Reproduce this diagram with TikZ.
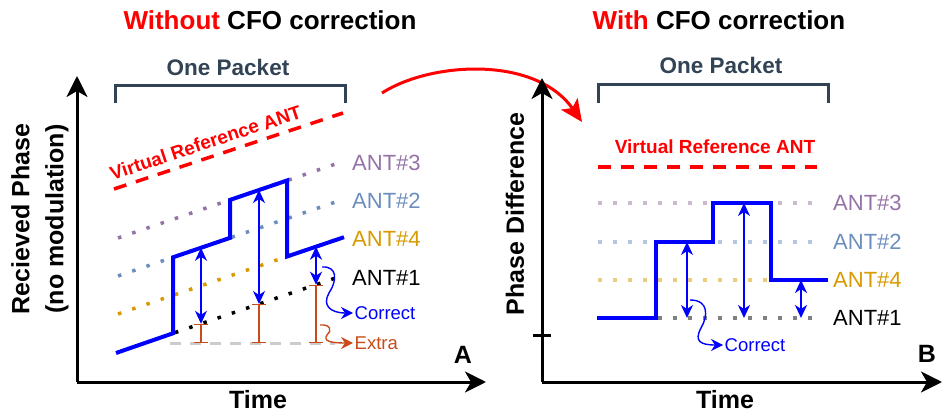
\documentclass[tikz,border=0pt]{standalone}
\usepackage{fontspec}
\setmainfont{Liberation Sans}
\usepackage{xcolor}
\usepackage{tikz}
\usetikzlibrary{arrows.meta, positioning}

\definecolor{antthree}{HTML}{9673A6}
\definecolor{anttwo}{HTML}{6C8EBF}
\definecolor{antfour}{HTML}{D79B00}
\definecolor{extracol}{RGB}{200,75,25}
\definecolor{slate}{HTML}{314354}

\begin{document}
\begin{tikzpicture}[x=1pt, y=-1pt,
    axis/.style={line width=3pt, -{Stealth[length=21pt,width=21pt,inset=6pt]}},
    titletext/.style={font=\fontsize{26}{30}\selectfont\bfseries},
    axlbl/.style={font=\fontsize{25}{34}\selectfont\bfseries, align=center},
    pkt/.style={font=\fontsize{22.5}{26}\selectfont\bfseries, text=slate},
    bracket/.style={draw=slate, line width=3pt},
    vref/.style={draw=red, line width=3.5pt, dash pattern=on 13pt off 10pt},
    vreflbl/.style={font=\fontsize{19}{22}\selectfont\bfseries, text=red},
    antline/.style={line width=3.5pt, dash pattern=on 3.5pt off 11.5pt},
    antlbl/.style={font=\fontsize{22}{26}\selectfont, inner sep=0pt, anchor=west},
    phase/.style={draw=blue, line width=4pt},
    gap/.style={draw=blue, line width=1.4pt, {Stealth[length=13pt,width=12pt,inset=4pt]}-{Stealth[length=13pt,width=12pt,inset=4pt]}},
    errbar/.style={draw=extracol, line width=1.5pt, {Bar[width=14pt]}-{Bar[width=14pt]}},
    curly/.style={line width=1.4pt, -{Stealth[length=12pt,width=12pt,inset=4pt]}},
    smalllbl/.style={font=\fontsize{18.5}{22}\selectfont, inner sep=1.5pt, anchor=west}]

    \useasboundingbox (0,0) rectangle (943,414);

    % ---------- panel A: without CFO correction ----------
    \node[titletext] (titleA) at (270,20) {\textcolor{red}{Without} CFO correction};

    \coordinate (oA) at (77,382);
    \coordinate (yA) at (77,76);
    \coordinate (xA) at (486,382);
    \draw[axis] (oA) -- (yA);
    \draw[axis] (oA) -- (xA);

    \node[axlbl] (timeA) at (258,400) {Time};
    \node[axlbl, rotate=90] (phaseA) at (40,219) {Recieved Phase\\(no modulation)};
    \node[axlbl] (labA) at (463,355) {A};

    \node[pkt] (pktA) at (228,67) {One Packet};
    \draw[bracket] (115,103) -- (115,86) -- (345,86) -- (345,103);

    % antenna phase lines
    \coordinate (vsA) at (114,189);
    \coordinate (veA) at (343,113);
    \coordinate (a3s) at (118,238);   \coordinate (a3e) at (338,163.2);
    \coordinate (a2s) at (118,276);   \coordinate (a2e) at (338,201.2);
    \coordinate (a4s) at (118,314);   \coordinate (a4e) at (338,239.2);
    \coordinate (a1s) at (175,332.6); \coordinate (a1e) at (335,278.2);
    \coordinate (bls) at (170,343);   \coordinate (ble) at (335,343);

    \draw[vref] (vsA) -- node[vreflbl, sloped, pos=0.42, above=3pt] {Virtual Reference ANT} (veA);
    \draw[antline, draw=antthree] (a3s) -- (a3e);
    \draw[antline, draw=anttwo] (a2s) -- (a2e);
    \draw[antline, draw=antfour] (a4s) -- (a4e);
    \draw[antline, draw=black] (a1s) -- (a1e);
    \draw[line width=3pt, draw=black!20, dash pattern=on 11pt off 9pt] (bls) -- (ble);

    \node[antlbl, text=antthree] (l3A) [right=14pt of a3e] {ANT\#3};
    \node[antlbl, text=anttwo] (l2A) [right=14pt of a2e] {ANT\#2};
    \node[antlbl, text=antfour] (l4A) [right=14pt of a4e] {ANT\#4};
    \node[antlbl] (l1A) [right=17pt of a1e] {ANT\#1};

    \draw[phase] (116,353) -- (173,333.3) -- (173,257.3) -- (230,237.9)
        -- (230,199.9) -- (287,180.5) -- (287,256.5) -- (344,237.2);

    % gaps to ANT#1 and the extra drift
    \coordinate (g1t) at (201,247.8); \coordinate (g1b) at (201,323.8); \coordinate (e1b) at (201,343);
    \coordinate (g2t) at (259,190);   \coordinate (g2b) at (259,304);   \coordinate (e2b) at (259,343);
    \coordinate (g3t) at (316,246.7); \coordinate (g3b) at (316,284.7); \coordinate (e3b) at (316,343);

    \draw[errbar] (g1b) -- (e1b);
    \draw[errbar] (g2b) -- (e2b);
    \draw[errbar] (g3b) -- (e3b);
    \draw[gap] (g1t) -- (g1b);
    \draw[gap] (g2t) -- (g2b);
    \draw[gap, line width=2.5pt] (g3t) -- (g3b);

    \node[smalllbl, text=blue] (okA) at (353,313) {Correct};
    \node[smalllbl, text=extracol] (exA) at (353,343) {Extra};
    \coordinate (kA) at (322,267);
    \coordinate (kE) at (320,325);
    \draw[curly, blue] (kA) .. controls (338,266) and (337,281) .. (329,293)
        .. controls (322,305) and (330,313) .. (okA.west);
    \draw[curly, extracol] (kE) .. controls (331,324) and (332,331) .. (327,335)
        .. controls (323,341) and (330,343) .. (exA.west);

    % ---------- hand-over arrow ----------
    \coordinate (hs) at (382,93);
    \coordinate (he) at (582,122);
    \draw[red, line width=3pt, -{Stealth[length=22pt,width=20pt,inset=5pt]}]
        (hs) .. controls (430,62) and (535,55) .. (he);

    % ---------- panel B: with CFO correction ----------
    \node[titletext] (titleB) at (719,20) {\textcolor{red}{With} CFO correction};

    \coordinate (oB) at (542,382);
    \coordinate (yB) at (542,78);
    \coordinate (xB) at (942,382);
    \draw[axis] (oB) -- (yB);
    \draw[axis] (oB) -- (xB);
    \draw[line width=3pt] (533,335) -- (551,335);

    \node[axlbl] (timeB) at (725,400) {Time};
    \node[axlbl, rotate=90] (phaseB) at (515,214) {Phase Difference};
    \node[axlbl] (labB) at (927,354) {B};

    \node[pkt] (pktB) at (721,65) {One Packet};
    \draw[bracket] (598,103) -- (598,85) -- (828,85) -- (828,103);

    \node[vreflbl] (vrB) at (715,147) {Virtual Reference ANT};
    \coordinate (vsB) at (598,167);
    \coordinate (veB) at (817,167);
    \draw[vref] (vsB) -- (veB);

    \coordinate (b3s) at (598,203); \coordinate (b3e) at (815,203);
    \coordinate (b2s) at (598,242); \coordinate (b2e) at (815,242);
    \coordinate (b4s) at (598,280); \coordinate (b4e) at (815,280);
    \coordinate (b1s) at (598,318); \coordinate (b1e) at (815,318);

    \draw[antline, draw=antthree!50] (b3s) -- (b3e);
    \draw[antline, draw=anttwo!50] (b2s) -- (b2e);
    \draw[antline, draw=antfour!50] (b4s) -- (b4e);
    \draw[antline, draw=black!50] (b1s) -- (b1e);

    \node[antlbl, text=antthree] (l3B) [right=18pt of b3e] {ANT\#3};
    \node[antlbl, text=anttwo] (l2B) [right=18pt of b2e] {ANT\#2};
    \node[antlbl, text=antfour] (l4B) [right=18pt of b4e] {ANT\#4};
    \node[antlbl] (l1B) [right=18pt of b1e] {ANT\#1};

    \draw[phase] (597,318) -- (656,318) -- (656,242) -- (713,242)
        -- (713,203) -- (771,203) -- (771,280) -- (828,280);

    \coordinate (h1t) at (687,242); \coordinate (h1b) at (687,318);
    \coordinate (h2t) at (744,203); \coordinate (h2b) at (744,318);
    \coordinate (h3t) at (801,280); \coordinate (h3b) at (801,318);
    \draw[gap] (h1t) -- (h1b);
    \draw[gap] (h2t) -- (h2b);
    \draw[gap, line width=2.5pt] (h3t) -- (h3b);

    \node[smalllbl, text=blue] (okB) at (723,345) {Correct};
    \coordinate (kB) at (690,300);
    \draw[curly, blue] (kB) .. controls (709,300) and (708,316) .. (701,328)
        .. controls (694,341) and (700,345) .. (okB.west);

\end{tikzpicture}
\end{document}
